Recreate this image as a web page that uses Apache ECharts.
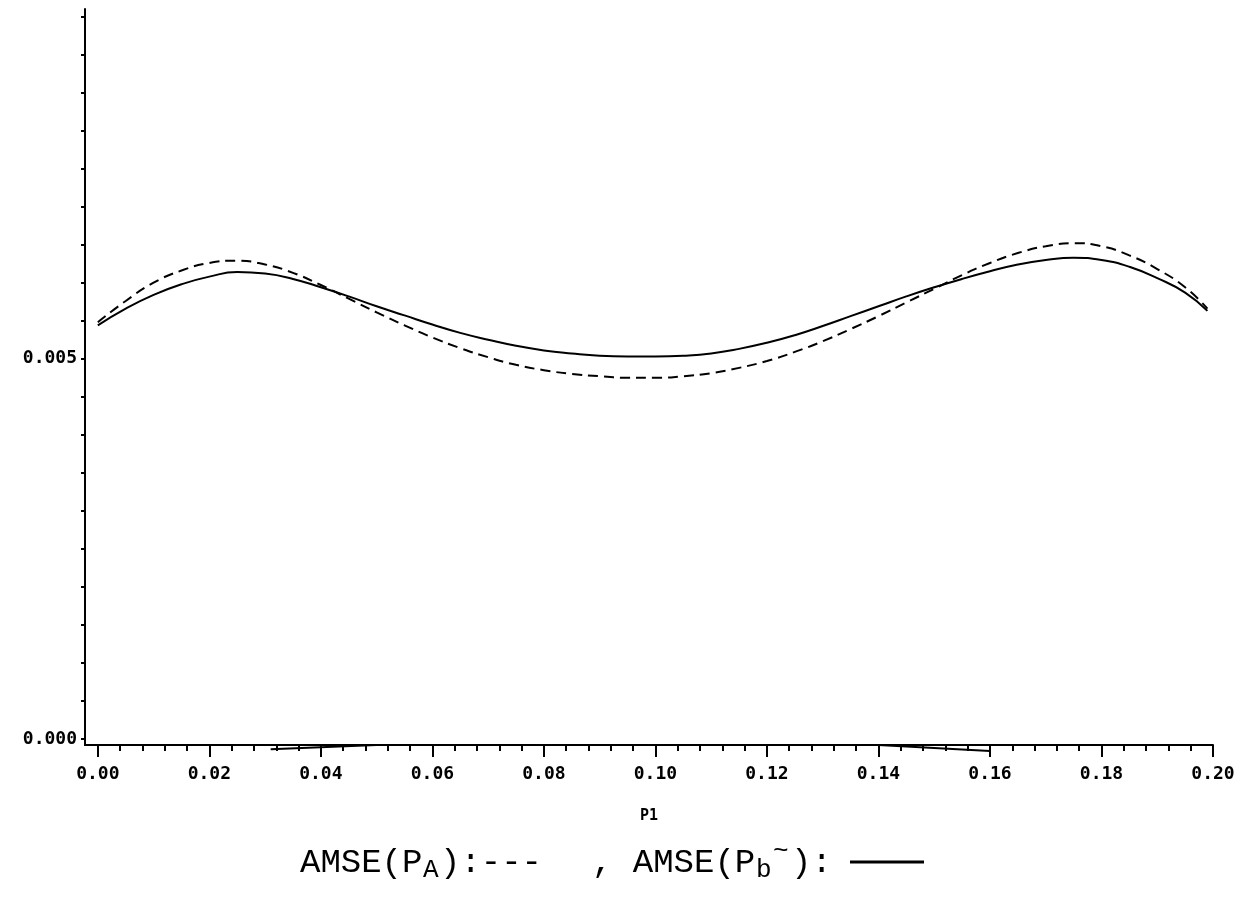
<!DOCTYPE html>
<html lang="en">
    <head>
        <meta http-equiv="Content-Type" content="text/html; charset=utf-8" />
        <title>AMSE vs P1</title>
        <style>
            * {
                margin: 0;
                padding: 0;
                box-sizing: border-box;
            }
            html,
            body {
                width: 100%;
                height: 100%;
                background: #fff;
            }
            #chart {
                width: 1248px;
                height: 912px;
            }
        </style>
    </head>
    <body>
        <div id="chart"></div>
        <script src="https://cdn.jsdelivr.net/npm/echarts@6/dist/echarts.min.js"></script>
        <script>
            // P1 grid the curves were read on
            const p1 = [
                0.000, 0.005, 0.010, 0.015, 0.020, 0.025, 0.030, 0.035, 0.040, 0.045,
                0.050, 0.055, 0.060, 0.065, 0.070, 0.075, 0.080, 0.085, 0.090, 0.095,
                0.100, 0.105, 0.110, 0.115, 0.120, 0.125, 0.130, 0.135, 0.140, 0.145,
                0.150, 0.155, 0.160, 0.165, 0.170, 0.175, 0.180, 0.185, 0.190, 0.195,
                0.199,
            ]
            // AMSE(P_A), dashed
            const amseA = [
                0.00548, 0.00576, 0.00600, 0.00616, 0.00626, 0.00629, 0.00624, 0.00613, 0.00597, 0.00579,
                0.00561, 0.00544, 0.00528, 0.00514, 0.00502, 0.00492, 0.00485, 0.00480, 0.00477, 0.00475,
                0.00475, 0.00477, 0.00481, 0.00488, 0.00497, 0.00509, 0.00523, 0.00539, 0.00556, 0.00574,
                0.00592, 0.00610, 0.00626, 0.00639, 0.00648, 0.00652, 0.00648, 0.00636, 0.00618, 0.00594,
                0.00566,
            ]
            // AMSE(P_b~), solid
            const amseB = [
                0.00544, 0.00566, 0.00584, 0.00598, 0.00608, 0.00614, 0.00612, 0.00605, 0.00594, 0.00582,
                0.00569, 0.00557, 0.00545, 0.00534, 0.00525, 0.00517, 0.00511, 0.00507, 0.00504, 0.00503,
                0.00503, 0.00504, 0.00507, 0.00513, 0.00521, 0.00531, 0.00543, 0.00556, 0.00569, 0.00582,
                0.00594, 0.00605, 0.00615, 0.00624, 0.00630, 0.00633, 0.00630, 0.00621, 0.00606, 0.00587,
                0.00563,
            ]
            // stray trace lying on the P1 axis
            const strayX = [0.031, 0.05, 0.14, 0.16]
            const strayY = [-0.000135, -0.00008, -0.00008, -0.00016]

            const xLabels = [0.0, 0.02, 0.04, 0.06, 0.08, 0.1, 0.12, 0.14, 0.16, 0.18, 0.2]
            const yLabels = [0.0, 0.005]

            const xMinor = []
            for (let i = 0; i <= 50; i++) xMinor.push(+(i * 0.004).toFixed(3))
            const yMinor = []
            for (let i = 0; i <= 19; i++) yMinor.push(+(i * 0.0005).toFixed(4))

            const pair = (xs, ys) => xs.map((x, i) => [x, ys[i]])

            const tickFont = {
                color: '#000',
                fontFamily: 'DejaVu Sans Mono',
                fontWeight: 'bold',
                fontSize: 18,
            }
            const legendFont = '34px "Liberation Mono", "Courier New", monospace'
            const subFont = '26px "Liberation Mono", "Courier New", monospace'

            const chart = echarts.init(document.getElementById('chart'), null, { renderer: 'canvas' })
            chart.setOption({
                animation: false,
                backgroundColor: '#fff',
                grid: { left: 85, right: 35, top: 9, bottom: 167 },
                xAxis: [
                    {
                        type: 'value',
                        position: 'bottom',
                        min: -0.0023,
                        max: 0.2,
                        name: 'P1',
                        nameLocation: 'middle',
                        nameGap: 64,
                        nameTextStyle: { ...tickFont, fontSize: 15 },
                        axisLine: { onZero: false, lineStyle: { color: '#000', width: 2 } },
                        axisTick: {
                            customValues: xLabels,
                            length: 12,
                            lineStyle: { color: '#000', width: 2 },
                        },
                        axisLabel: {
                            customValues: xLabels,
                            margin: 20,
                            formatter: (v) => v.toFixed(2),
                            ...tickFont,
                        },
                        splitLine: { show: false },
                    },
                    {
                        type: 'value',
                        position: 'bottom',
                        min: -0.0023,
                        max: 0.2,
                        axisLine: { show: false, onZero: false },
                        axisTick: {
                            customValues: xMinor,
                            length: 6,
                            lineStyle: { color: '#000', width: 2 },
                        },
                        axisLabel: { show: false },
                        splitLine: { show: false },
                    },
                ],
                yAxis: {
                    type: 'value',
                    min: -0.00008,
                    max: 0.0096,
                    axisLine: { onZero: false, lineStyle: { color: '#000', width: 2 } },
                    axisTick: {
                        customValues: yMinor,
                        length: 4,
                        lineStyle: { color: '#000', width: 2 },
                    },
                    axisLabel: {
                        customValues: yLabels,
                        margin: 8,
                        formatter: (v) => v.toFixed(3),
                        ...tickFont,
                    },
                    splitLine: { show: false },
                },
                series: [
                    {
                        name: 'AMSE(P_A)',
                        type: 'line',
                        smooth: true,
                        showSymbol: false,
                        data: pair(p1, amseA),
                        lineStyle: { color: '#000', width: 2, type: [10, 6] },
                    },
                    {
                        name: 'AMSE(P_b~)',
                        type: 'line',
                        smooth: true,
                        showSymbol: false,
                        data: pair(p1, amseB),
                        lineStyle: { color: '#000', width: 2 },
                    },
                    {
                        name: 'stray',
                        type: 'line',
                        showSymbol: false,
                        clip: false,
                        data: pair(strayX, strayY),
                        lineStyle: { color: '#000', width: 2 },
                    },
                ],
                graphic: [
                    {
                        type: 'group',
                        left: 300,
                        top: 838,
                        children: [
                            { type: 'text', x: 0, y: 0, style: { text: 'AMSE(P', font: legendFont, fill: '#000' } },
                            { type: 'text', x: 123, y: 11, style: { text: 'A', font: subFont, fill: '#000' } },
                            { type: 'text', x: 140, y: 0, style: { text: '):---', font: legendFont, fill: '#000' } },
                            { type: 'text', x: 292, y: 0, style: { text: ', AMSE(P', font: legendFont, fill: '#000' } },
                            { type: 'text', x: 456, y: 11, style: { text: 'b', font: subFont, fill: '#000' } },
                            { type: 'text', x: 473, y: -8, style: { text: '~', font: subFont, fill: '#000' } },
                            { type: 'text', x: 491, y: 0, style: { text: '):', font: legendFont, fill: '#000' } },
                        ],
                    },
                    {
                        type: 'line',
                        shape: { x1: 850, y1: 862, x2: 924, y2: 862 },
                        style: { stroke: '#000', lineWidth: 3 },
                    },
                ],
            })
        </script>
    </body>
</html>
